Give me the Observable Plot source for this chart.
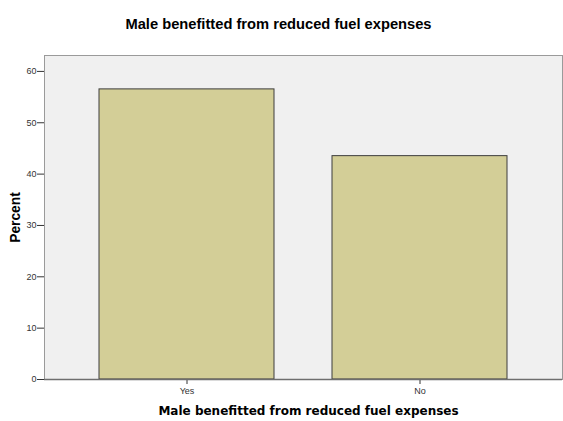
<!DOCTYPE html>
<html>
<head>
<meta charset="utf-8">
<script src="https://cdn.jsdelivr.net/npm/d3@7"></script>
<script src="https://cdn.jsdelivr.net/npm/@observablehq/plot@0.6"></script>
<style>
  html, body { margin: 0; padding: 0; background: #fff; }
  svg { display: block; }
</style>
</head>
<body>
<div id="chart"></div>
<script>
const categories = ["Yes", "No"];
const percents = [56.5, 43.5];
const yTicks = [0, 10, 20, 30, 40, 50, 60];
const titleText = "Male benefitted from reduced fuel expenses";
const xLabel = "Male benefitted from reduced fuel expenses";
const yLabel = "Percent";

const data = categories.map((c, i) => ({cat: c, pct: percents[i]}));

const chart = Plot.plot({
  width: 563,
  height: 421,
  marginTop: 55,
  marginLeft: 44,
  marginRight: 1,
  marginBottom: 42,
  style: {fontFamily: "Liberation Sans, Arial, sans-serif", background: "#fff"},
  x: {domain: categories, paddingInner: 0.25, paddingOuter: 0.235, label: null},
  y: {domain: [0, 63.1], label: null},
  marks: [
    Plot.frame({fill: "#f0f0f0", stroke: "#9a9a9a"}),
    Plot.barY(data, {x: "cat", y: "pct", fill: "#d3ce97", stroke: "#3c3c3c", strokeWidth: 1}),
    Plot.axisY({ticks: yTicks, tickSize: 7, tickPadding: 1, fontSize: 9, color: "#333", stroke: "#333", label: null}),
    Plot.axisX({tickSize: 5, tickPadding: 3, fontSize: 9, color: "#333", label: null}),
    Plot.ruleY([0], {stroke: "#6e6e6e", strokeWidth: 1.5}),
    Plot.ruleX([0], {x: () => 0, frameAnchor: "left", stroke: "#6e6e6e"}),
    Plot.text([titleText], {frameAnchor: "top", textAnchor: "middle", dy: -37, dx: -25, fontSize: 14.7, fontWeight: "bold", fill: "#000"}),
    Plot.text([xLabel], {frameAnchor: "bottom", textAnchor: "middle", dy: 35, dx: 5, fontSize: 12, fontWeight: "bold", fill: "#000", fontFamily: "DejaVu Sans"}),
    Plot.text([yLabel], {frameAnchor: "left", textAnchor: "middle", dx: -29, dy: 0, rotate: -90, fontSize: 13.8, fontWeight: "bold", fill: "#000"})
  ]
});
document.getElementById("chart").appendChild(chart);
</script>
</body>
</html>
